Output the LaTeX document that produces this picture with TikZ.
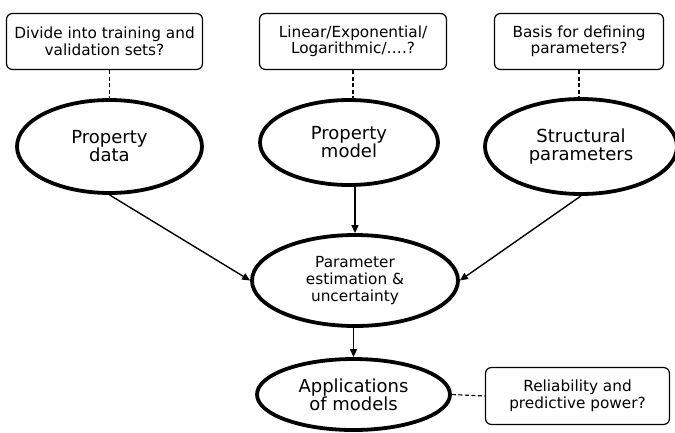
\documentclass[tikz,border=0pt]{standalone}
\usepackage{fontspec}
\setmainfont{DejaVu Sans}
\usetikzlibrary{shapes.geometric,arrows.meta}
\begin{document}
\begin{tikzpicture}[x=1pt,y=-1pt,
  ell/.style={ellipse, draw, line width=3.8pt, inner sep=0pt, align=center},
  bigtxt/.style={font=\fontsize{18}{18}\selectfont},
  midtxt/.style={font=\fontsize{15.3}{17}\selectfont},
  qbox/.style={draw, rounded corners=6pt, line width=1.2pt, align=center, inner sep=0pt,
    font=\fontsize{15.3}{16.5}\selectfont},
  arr/.style={line width=1.4pt, -{Triangle[length=8pt,width=7pt]}},
  dsh/.style={line width=1.2pt, dash pattern=on 4pt off 2.5pt}]
\useasboundingbox (0,0) rectangle (675,432);
% questions
\node[qbox, minimum width=196pt, minimum height=56pt] (B1) at (104.5,41.5) {Divide into training and\\validation sets?};
\node[qbox, minimum width=187pt, minimum height=56pt] (B2) at (353,41.5) {Linear/Exponential/\\Logarithmic/….?};
\node[qbox, minimum width=169pt, minimum height=56pt] (B3) at (579,41.5) {Basis for defining\\parameters?};
\node[qbox, minimum width=184pt, minimum height=57pt] (B4) at (577.5,396) {Reliability and\\predictive power?};
% ellipses
\node[ell, bigtxt, minimum width=185pt, minimum height=93pt] (E1) at (109.5,146.5) {Property\\data};
\node[ell, bigtxt, minimum width=178pt, minimum height=85pt] (E2) at (349,142.5) {Property\\model};
\node[ell, bigtxt, minimum width=192pt, minimum height=95pt] (E3) at (581,146.5) {Structural\\parameters};
\node[ell, midtxt, minimum width=206pt, minimum height=91pt] (E4) at (355,280.5) {Parameter\\estimation \&\\uncertainty};
\node[ell, bigtxt, minimum width=193pt, minimum height=71pt] (E5) at (353.5,394.5) {Applications\\of models};
% dashed links
\draw[dsh] (B1.south -| E1.north) -- (E1.north);
\draw[dsh] (B2.south) -- (B2.south |- E2.north);
\draw[dsh] (B3.south) -- (B3.south |- E3.north);
\draw[dsh] (E5.east) -- (B4.west);
% arrows
\draw[arr] (E1.south) -- (E4.west);
\draw[arr] (E4.north |- E2.south) -- (E4.north);
\draw[arr] (E3.south) -- (E4.east);
\draw[arr] (E5.north |- E4.south) -- (E5.north);
\end{tikzpicture}
\end{document}
